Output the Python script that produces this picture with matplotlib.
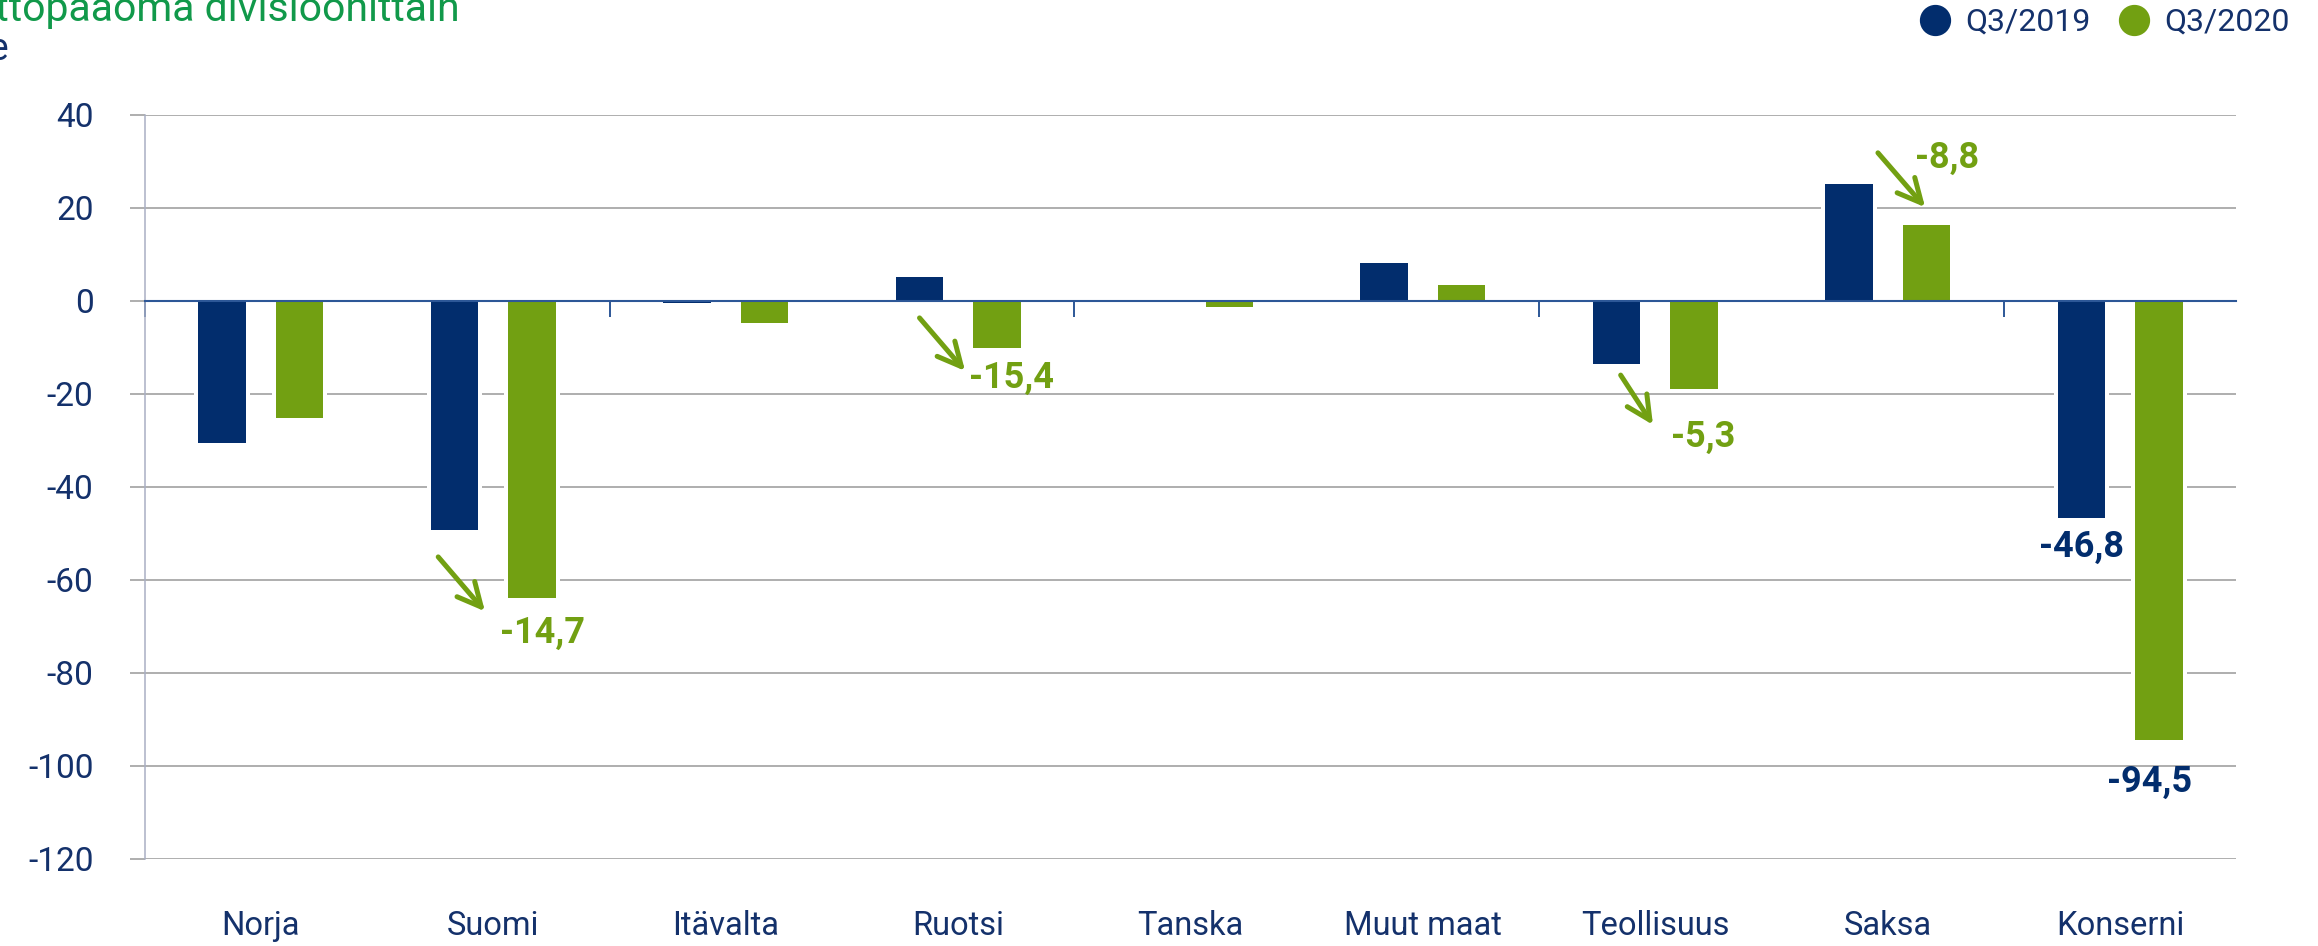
import matplotlib
matplotlib.use("Agg")
import matplotlib.pyplot as plt
from matplotlib.lines import Line2D
from matplotlib.transforms import blended_transform_factory
import numpy as np

plt.rcParams['font.family'] = ['Roboto', 'DejaVu Sans']

# ================= DATA =================
divisioonat = ["Norja", "Suomi", "Itävalta", "Ruotsi", "Tanska",
               "Muut maat", "Teollisuus", "Saksa", "Konserni"]
q3_2019 = [-30.5, -49.3, -0.4, 5.2, 0.0, 8.0, -13.7, 25.0, -46.8]
q3_2020 = [-25.3, -64.0, -4.7, -10.2, -1.3, 3.4, -19.0, 16.2, -94.5]
sarjat = ["Q3/2019", "Q3/2020"]
y_ticks = [40, 20, 0, -20, -40, -60, -80, -100, -120]

# muutos Q3/2019 -> Q3/2020 (nuolet)
muutos_div = ["Suomi", "Ruotsi", "Teollisuus", "Saksa"]
muutos_txt = ["-14,7", "-15,4", "-5,3", "-8,8"]

# ================= COLORS =================
NAVY = "#022D6D"
GREEN = "#72A012"
TITLE_GREEN = "#11994A"
TEXT = "#14316B"
GRID = "#A8A8A8"
ZERO = "#2D5797"

W, H, DPI = 2318, 946, 100
fig = plt.figure(figsize=(W / DPI, H / DPI), dpi=DPI)
ax = fig.add_axes([144.7 / W, 1 - 858.7 / H, 2091.6 / W, 744.0 / H])

x = np.arange(len(divisioonat))
off = 0.167
bw = 0.204
pad = 8 / 232.4

# white halo behind bars -> gaps in the grid lines
ax.bar(x - off, q3_2019, width=bw + pad, color="white", zorder=1.2)
ax.bar(x + off, q3_2020, width=bw + pad, color="white", zorder=1.2)
ax.bar(x - off, q3_2019, width=bw, color=NAVY, zorder=2, label=sarjat[0])
ax.bar(x + off, q3_2020, width=bw, color=GREEN, zorder=2, label=sarjat[1])

ax.set_xlim(-0.5, len(divisioonat) - 0.5)
ax.set_ylim(min(y_ticks), max(y_ticks))
ax.set_yticks(y_ticks)
ax.set_yticklabels([str(v) for v in y_ticks])
ax.yaxis.grid(True, color=GRID, lw=1.3)
ax.set_axisbelow(True)
ax.tick_params(axis="y", length=10.8, width=1.3, color=GRID, pad=26,
               labelsize=24, labelcolor=TEXT)

# x axis sits on zero, ticks every second boundary
ax.spines["top"].set_visible(False)
ax.spines["right"].set_visible(False)
ax.spines["left"].set_color("#A9AFC3")
ax.spines["left"].set_linewidth(1.1)
ax.spines["bottom"].set_position(("data", 0))
ax.spines["bottom"].set_color(ZERO)
ax.spines["bottom"].set_linewidth(1.5)
ax.set_xticks(np.arange(-0.5, len(divisioonat) - 0.5, 2))
ax.tick_params(axis="x", length=11.5, width=1.4, color=ZERO, labelbottom=False)

trans = blended_transform_factory(ax.transData, ax.transAxes)
for i, nimi in enumerate(divisioonat):
    ax.text(i, -0.09, nimi, transform=trans, ha="center", va="center",
            fontsize=23.5, color=TEXT)

# arrows with change labels
nuolet = {
    "Suomi": ((0.763, -55.1), (0.964, -66.8), (1.213, -71.5)),
    "Ruotsi": ((2.834, -3.7), (3.030, -15.1), (3.230, -16.6)),
    "Teollisuus": ((5.851, -16.0), (5.990, -26.7), (6.205, -29.3)),
    "Saksa": ((6.958, 31.8), (7.161, 20.1), (7.255, 30.7)),
}
for nimi, teksti in zip(muutos_div, muutos_txt):
    alku, loppu, paikka = nuolet[nimi]
    ax.annotate("", xy=loppu, xytext=alku,
                arrowprops=dict(arrowstyle="->,head_length=0.85,head_width=0.42",
                                color=GREEN, lw=3.6, mutation_scale=20,
                                shrinkA=0, shrinkB=0),
                zorder=4)
    ax.text(paikka[0], paikka[1], teksti, ha="center", va="center",
            fontsize=26, fontweight="bold", color=GREEN, zorder=4)

# Konserni value labels
k = len(divisioonat) - 1
ax.text(k - off, q3_2019[k] - 6.2, f"{q3_2019[k]:.1f}".replace(".", ","),
        ha="center", va="center", fontsize=26, fontweight="bold", color=NAVY)
ax.text(k + off - 0.04, q3_2020[k] - 9.0, f"{q3_2020[k]:.1f}".replace(".", ","),
        ha="center", va="center", fontsize=26, fontweight="bold", color=NAVY)

# title, cropped like in the original
fig.text(460 / W, 1 - 21 / H, "Käyttöpääoma divisioonittain", ha="right",
         va="baseline", fontsize=29.5, color=TITLE_GREEN)
fig.text(9 / W, 1 - 60 / H, "Me", ha="right", va="baseline",
         fontsize=27, color=TEXT)

# legend
handles = [Line2D([], [], marker="o", ls="none", ms=21.5, color=NAVY),
           Line2D([], [], marker="o", ls="none", ms=21.5, color=GREEN)]
fig.legend(handles, sarjat, loc="upper right", ncol=2, frameon=False,
           bbox_to_anchor=(2290 / W, 1 - 8 / H), borderpad=0, borderaxespad=0,
           handlelength=1.0, handletextpad=0.45, columnspacing=0.85,
           prop={"size": 23}, labelcolor=TEXT)

fig.savefig("out.png", dpi=DPI)
